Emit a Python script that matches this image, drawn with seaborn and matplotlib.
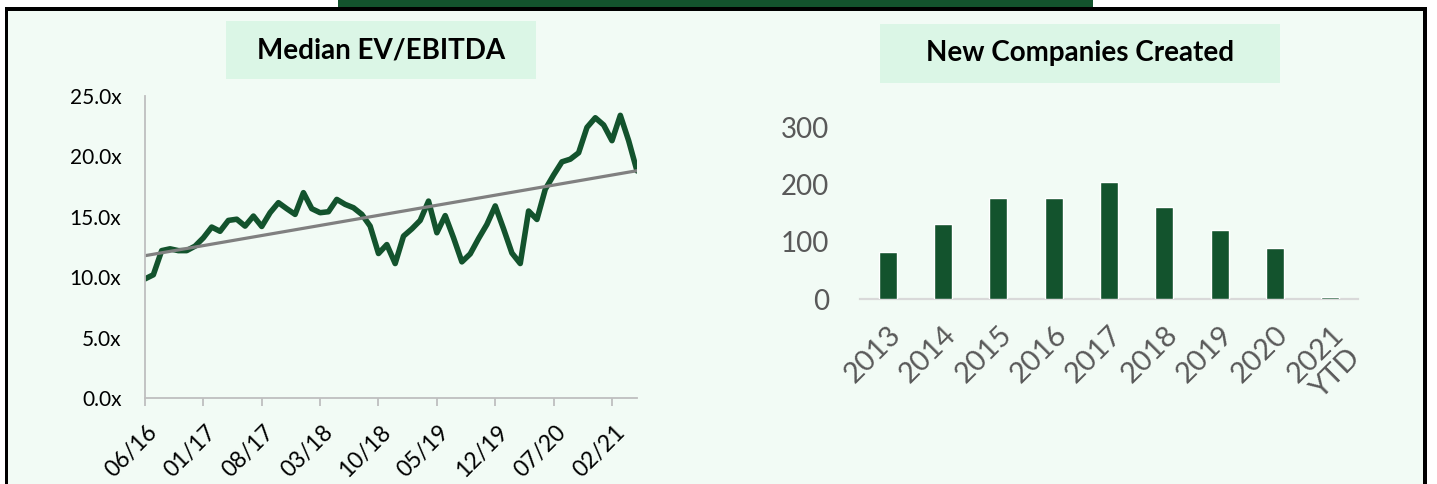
import numpy as np
import pandas as pd
import matplotlib
matplotlib.use("Agg")
import matplotlib.pyplot as plt
from matplotlib.patches import Rectangle
from matplotlib.ticker import FuncFormatter
import matplotlib.transforms as mtransforms
import seaborn as sns

# ---------------- data ----------------
ev_title = "Median EV/EBITDA"
ev_values = [9.86, 10.2, 12.2, 12.35, 12.2, 12.2, 12.57, 13.26, 14.15, 13.8,
             14.7, 14.8, 14.23, 15.06, 14.2, 15.34, 16.17, 15.67, 15.2, 17.0,
             15.67, 15.34, 15.42, 16.44, 16.03, 15.75, 15.2, 14.23, 11.96, 12.7,
             11.13, 13.4, 14.0, 14.7, 16.3, 13.68, 15.1, 13.26, 11.27, 11.93,
             13.2, 14.37, 15.9, 14.0, 12.0, 11.13, 15.48, 14.78, 17.28, 18.46,
             19.55, 19.77, 20.3, 22.4, 23.2, 22.6, 21.3, 23.4, 21.3, 18.8]
ev_tick_labels = ["06/16", "01/17", "08/17", "03/18", "10/18",
                  "05/19", "12/19", "07/20", "02/21"]
ev_yticks = [0, 5, 10, 15, 20, 25]

nc_title = "New Companies Created"
nc_years = ["2013", "2014", "2015", "2016", "2017", "2018", "2019", "2020", "2021\nYTD"]
nc_counts = [82, 131, 177, 177, 204, 161, 121, 89, 4]
nc_yticks = [0, 100, 200, 300]

# ---------------- style ----------------
GREEN = "#13532d"
MINT_BG = "#f2fbf5"
BOX = "#dbf6e6"
sns.set_theme(style="white")
plt.rcParams["font.family"] = ["Lato", "DejaVu Sans"]

W, H = 1437, 484
fig = plt.figure(figsize=(W / 100, H / 100), dpi=100, facecolor="white")


def rect(x0, y0, x1, y1, color, z):
    fig.add_artist(Rectangle((x0 / W, 1 - y1 / H), (x1 - x0) / W, (y1 - y0) / H,
                             transform=fig.transFigure, facecolor=color,
                             edgecolor="none", zorder=z))


# banner, frame, background
rect(338, 0, 1093, 7.5, GREEN, -20)
rect(5, 7, 1427, 490, "black", -19)
rect(8, 11, 1423, 490, MINT_BG, -18)
# title boxes
rect(226, 21, 536, 79, BOX, -17)
rect(880, 24, 1280, 83, BOX, -17)
fig.text(381 / W, 1 - 50 / H, ev_title, ha="center", va="center",
         fontsize=20, fontweight="bold", color="black")
fig.text(1080 / W, 1 - 53.5 / H, nc_title, ha="center", va="center",
         fontsize=20, fontweight="bold", color="black")

# ---------------- left: line chart ----------------
ax1 = fig.add_axes([145 / W, 1 - 398 / H, 492 / W, 302 / H])
ax1.set_facecolor("none")
idx = np.arange(len(ev_values))
df = pd.DataFrame({"m": idx, "v": ev_values})
sns.lineplot(data=df, x="m", y="v", ax=ax1, color=GREEN, linewidth=4.0)
sns.regplot(data=df, x="m", y="v", ax=ax1, scatter=False, ci=None,
            line_kws=dict(color="#808080", linewidth=2.3))
ax1.set_xlim(0, len(ev_values) - 1)
ax1.set_ylim(0, 25)
ax1.set_xticks(np.arange(len(ev_tick_labels)) * 7)
ax1.set_xticklabels(ev_tick_labels)
ax1.set_yticks(ev_yticks)
ax1.yaxis.set_major_formatter(FuncFormatter(lambda v, _: f"{v:.1f}x"))
ax1.set_xlabel("")
ax1.set_ylabel("")
for s in ["top", "right"]:
    ax1.spines[s].set_visible(False)
for s in ["left", "bottom"]:
    ax1.spines[s].set_color("#bfbfbf")
    ax1.spines[s].set_linewidth(1.3)
ax1.tick_params(axis="y", length=0, pad=17, labelsize=15, labelcolor="black")
ax1.tick_params(axis="x", length=6, width=1.3, color="#bfbfbf", direction="out",
                pad=11, labelsize=16.5, labelcolor="black", bottom=True)
for lbl in ax1.get_xticklabels():
    lbl.set_rotation(45)
    lbl.set_ha("right")
    lbl.set_va("top")
    lbl.set_rotation_mode("anchor")
    lbl.set_transform(lbl.get_transform() + mtransforms.ScaledTranslation(2 / 100, 0, fig.dpi_scale_trans))

# ---------------- right: bar chart ----------------
ax2 = fig.add_axes([860 / W, 1 - 299 / H, 498 / W, 172 / H])
ax2.set_facecolor("none")
sns.barplot(x=nc_years, y=nc_counts, ax=ax2, color=GREEN, saturation=1, width=0.32)
ax2.set_xlim(-0.5, len(nc_years) - 0.5)
ax2.set_ylim(0, 300)
ax2.set_yticks(nc_yticks)
ax2.set_yticklabels([str(t) for t in nc_yticks])
ax2.set_xlabel("")
ax2.set_ylabel("")
for s in ["top", "right", "left"]:
    ax2.spines[s].set_visible(False)
ax2.spines["bottom"].set_color("#d9d9d9")
ax2.spines["bottom"].set_linewidth(1.6)
ax2.spines["bottom"].set_zorder(0.5)
ax2.tick_params(axis="y", length=0, pad=22, labelsize=20, labelcolor="#595959")
ax2.tick_params(axis="x", length=0, pad=16, labelsize=21, labelcolor="#595959")
for lbl in ax2.get_xticklabels():
    lbl.set_rotation(45)
    lbl.set_ha("right")
    lbl.set_va("top")
    lbl.set_rotation_mode("anchor")
    lbl.set_multialignment("center")
    lbl.set_linespacing(1.1)
    lbl.set_transform(lbl.get_transform() + mtransforms.ScaledTranslation(0 / 100, 0, fig.dpi_scale_trans))

fig.savefig("out.png", dpi=100, facecolor="white")
